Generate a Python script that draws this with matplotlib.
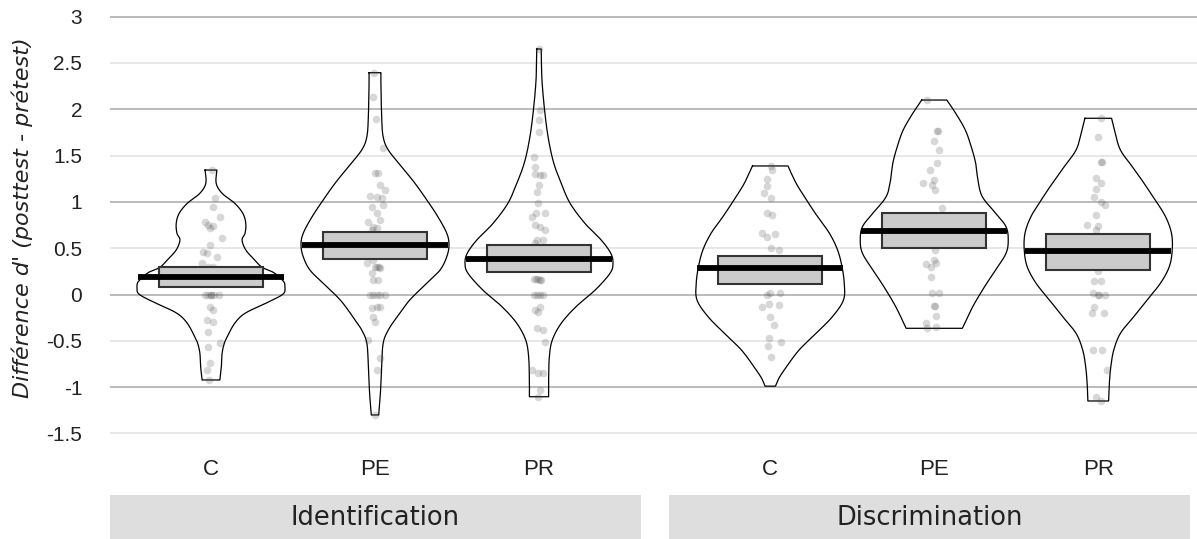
import numpy as np
import matplotlib
matplotlib.use("Agg")
import matplotlib.pyplot as plt
from matplotlib.patches import Rectangle

# ---------------- data ----------------
positions = [1, 2, 3, 4.41, 5.41, 6.41]
cond_labels = ["C", "PE", "PR", "C", "PE", "PR"]
task_labels = ["Identification", "Discrimination"]

means = [0.189, 0.535, 0.387, 0.290, 0.689, 0.473]
ci_low = [0.078, 0.380, 0.239, 0.113, 0.499, 0.265]
ci_high = [0.294, 0.671, 0.535, 0.419, 0.877, 0.653]

# violin outline: levels (d') and relative half width (1 = widest)
lev_id_c = [1.344, 1.201, 1.093, 0.985, 0.877, 0.769, 0.661, 0.589, 0.481, 0.373, 0.294,
            0.240, 0.189, 0.130, 0.070, 0.020, -0.024, -0.095, -0.203, -0.311, -0.456,
            -0.527, -0.635, -0.779, -0.923]
den_id_c = [0.08, 0.07, 0.15, 0.32, 0.43, 0.47, 0.46, 0.42, 0.47, 0.59, 0.69,
            0.84, 0.92, 0.99, 1.00, 0.99, 0.92, 0.74, 0.46, 0.32, 0.22,
            0.18, 0.15, 0.14, 0.12]
lev_id_pe = [2.395, 2.281, 1.920, 1.704, 1.560, 1.380, 1.201, 1.021, 0.840, 0.661, 0.535,
             0.408, 0.265, 0.121, -0.059, -0.240, -0.383, -0.527, -0.779, -0.959, -1.104, -1.301]
den_id_pe = [0.08, 0.08, 0.09, 0.11, 0.18, 0.36, 0.54, 0.70, 0.85, 0.97, 1.00,
             0.97, 0.88, 0.70, 0.47, 0.30, 0.18, 0.11, 0.09, 0.08, 0.07, 0.05]
lev_id_pr = [2.651, 2.316, 1.957, 1.668, 1.417, 1.201, 0.985, 0.769, 0.589, 0.445, 0.337,
             0.229, 0.049, -0.132, -0.311, -0.491, -0.672, -0.923, -1.104]
den_id_pr = [0.03, 0.04, 0.08, 0.13, 0.20, 0.30, 0.42, 0.62, 0.84, 0.97, 1.00,
             0.96, 0.76, 0.50, 0.30, 0.18, 0.14, 0.13, 0.13]
lev_di_c = [1.388, 1.201, 1.021, 0.840, 0.661, 0.481, 0.300, 0.121, -0.059, -0.240,
            -0.419, -0.599, -0.780, -0.900, -0.990]
den_di_c = [0.24, 0.35, 0.49, 0.64, 0.80, 0.91, 0.97, 1.00, 0.99, 0.84,
            0.62, 0.39, 0.22, 0.12, 0.07]
lev_di_pe = [2.100, 1.957, 1.776, 1.596, 1.417, 1.236, 1.056, 0.877, 0.732, 0.589,
             0.445, 0.265, 0.084, -0.132, -0.365]
den_di_pe = [0.17, 0.29, 0.42, 0.50, 0.56, 0.59, 0.65, 0.83, 0.97, 1.00,
             0.97, 0.83, 0.68, 0.52, 0.38]
lev_di_pr = [1.903, 1.741, 1.560, 1.380, 1.201, 1.021, 0.840, 0.661, 0.481, 0.300,
             0.121, -0.059, -0.240, -0.419, -0.599, -0.779, -0.959, -1.150]
den_di_pr = [0.18, 0.23, 0.30, 0.46, 0.62, 0.77, 0.91, 0.99, 1.00, 0.96,
             0.84, 0.66, 0.48, 0.30, 0.21, 0.17, 0.15, 0.14]

# individual participants (d' difference) and their horizontal jitter (px)
pts_id_c = [1.344, 1.039, 0.948, 0.840, 0.786, 0.751, 0.740, 0.720, 0.607, 0.535, 0.462,
            0.445, 0.408, 0.337, 0.300, 0.300, 0.0, 0.0, 0.0, 0.0, 0.0, 0.0,
            -0.132, -0.167, -0.275, -0.294, -0.402, -0.527, -0.564, -0.743, -0.815, -0.923]
jit_id_c = [1, 4, 2, 9, -6, -3, 2, -1, 11, -1, -8,
            -4, 6, -9, 2, -3, -6, -3, 0, 3, 8, 0,
            -1, 2, -4, 2, -3, 9, -3, -1, -4, -2]
pts_id_pe = [2.395, 2.136, 1.892, 1.579, 1.316, 1.316, 1.183, 1.129, 1.067, 1.056, 1.039,
             0.948, 0.966, 0.877, 0.805, 0.786, 0.732, 0.715, 0.697, 0.624, 0.373, 0.337,
             0.300, 0.300, 0.300, 0.283, 0.229, 0.157, 0.157, 0.0, 0.0, 0.0, 0.0, 0.0,
             -0.132, -0.149, -0.132, -0.240, -0.294, -0.491, -0.689, -0.815, -1.301]
jit_id_pe = [-1, -2, 1, 8, 0, 3, 5, 10, -5, 2, 7,
             -3, 8, 2, 5, -7, -2, 2, -3, 5, -2, -8,
             2, 0, 4, 5, -3, -2, 3, -5, -2, 2, 5, 10,
             2, -3, 5, -2, 0, -7, 5, 2, 0]
pts_id_pr = [2.651, 1.992, 1.884, 1.758, 1.488, 1.380, 1.301, 1.290, 1.290, 1.183, 1.110,
             0.985, 0.883, 0.883, 0.840, 0.751, 0.732, 0.697, 0.589, 0.589, 0.553,
             0.164, 0.164, 0.164, 0.157, 0.157, 0.0, 0.0, 0.0, 0.0,
             -0.132, -0.167, -0.185, -0.365, -0.383, -0.509, -0.815, -0.851, -0.851,
             -1.031, -1.104]
jit_id_pr = [0, 1, 0, 0, -5, -4, -4, 1, 4, 0, -2,
             -1, -3, 6, -7, -4, 1, 6, -2, 4, -4,
             -5, -3, -1, 2, 1, -5, -2, 1, 4,
             1, -4, -1, -2, 4, 6, -7, -1, 4,
             1, -1]
pts_di_c = [1.388, 1.344, 1.244, 1.172, 1.099, 1.045, 0.877, 0.859, 0.668, 0.653, 0.624,
            0.499, 0.481, 0.013, 0.013, 0.0, -0.103, -0.113, -0.138, -0.240, -0.329,
            -0.473, -0.509, -0.560, -0.680]
jit_di_c = [1, 2, -3, -3, -6, 1, -3, 2, -8, 5, -3,
            1, 9, 0, 10, -3, -1, 9, -8, 0, 4,
            -1, 11, -2, 1]
pts_di_pe = [2.100, 1.769, 1.769, 1.658, 1.560, 1.424, 1.344, 1.236, 1.207, 1.183, 1.129,
             0.931, 0.481, 0.373, 0.343, 0.326, 0.300, 0.186, 0.013, 0.013, -0.124,
             -0.124, -0.232, -0.311, -0.348, -0.365]
jit_di_pe = [-7, 3, 4, 0, 5, 3, -4, 0, -11, -2, 1,
             8, 1, 0, 2, -8, -3, -3, -2, 5, 0,
             1, 2, -8, 2, -7]
pts_di_pr = [1.903, 1.704, 1.434, 1.434, 1.255, 1.201, 1.136, 1.056, 1.002, 0.966, 0.859,
             0.751, 0.740, 0.697, 0.257, 0.146, 0.146, 0.013, 0.0, 0.0, 0.0,
             -0.132, -0.203, -0.203, -0.599, -0.599, -0.815, -1.104, -1.150]
jit_di_pr = [3, 0, 3, 4, -2, 3, -2, -4, 3, 7, -2,
             -11, 0, -2, 0, -4, 3, -5, 0, 1, 7,
             -4, -6, 6, -5, 4, 9, -2, 3]

levels = [lev_id_c, lev_id_pe, lev_id_pr, lev_di_c, lev_di_pe, lev_di_pr]
density = [den_id_c, den_id_pe, den_id_pr, den_di_c, den_di_pe, den_di_pr]
points = [pts_id_c, pts_id_pe, pts_id_pr, pts_di_c, pts_di_pe, pts_di_pr]
jitter = [jit_id_c, jit_id_pe, jit_id_pr, jit_di_c, jit_di_pe, jit_di_pr]

yticks = [-1.5, -1, -0.5, 0, 0.5, 1, 1.5, 2, 2.5, 3]


def smooth_outline(y, w, n=12):
    # catmull-rom through the read outline points, only to draw a rounder curve
    y = np.asarray(y, float)
    w = np.asarray(w, float)
    P = np.column_stack([w, y])
    P = np.vstack([P[0], P, P[-1]])
    out = []
    t = np.linspace(0, 1, n, endpoint=False)[:, None]
    for k in range(1, len(P) - 2):
        p0, p1, p2, p3 = P[k - 1], P[k], P[k + 1], P[k + 2]
        seg = 0.5 * ((2 * p1) + (-p0 + p2) * t + (2 * p0 - 5 * p1 + 4 * p2 - p3) * t ** 2
                     + (-p0 + 3 * p1 - 3 * p2 + p3) * t ** 3)
        out.append(seg)
    out.append(P[-2][None, :])
    out = np.vstack(out)
    return out[:, 1], out[:, 0]


# ---------------- figure ----------------
W, H = 1197, 539
PX = 164.0            # pixels per category unit
fig = plt.figure(figsize=(W / 100, H / 100), dpi=100)
ax = fig.add_axes([110 / W, (H - 440) / H, 1 - 110 / W, 430 / H])
ax.set_xlim(1 + (110 - 211) / PX, 1 + (W - 211) / PX)
ax.set_ylim((294.5 - 440) / 92.6, (294.5 - 10) / 92.6)

for v in yticks:
    col = "#aca7a7" if float(v).is_integer() else "#e0e0e0"
    ax.axhline(v, color=col, lw=1.1, zorder=0)

vmax = 74 / PX
for i, pos in enumerate(positions):
    lev, rel = smooth_outline(levels[i], density[i])
    hw = rel * vmax
    xs = np.concatenate([pos - hw, (pos + hw)[::-1], [pos - hw[0]]])
    ys = np.concatenate([lev, lev[::-1], [lev[0]]])
    ax.plot(xs, ys, color="black", lw=0.9, zorder=2)

    px = pos + np.array(jitter[i]) / PX
    ax.scatter(px, points[i], s=30, color="#4a4a4a", alpha=0.22, lw=0, zorder=3)

    bw = 52 / PX
    ax.add_patch(Rectangle((pos - bw, ci_low[i]), 2 * bw, ci_high[i] - ci_low[i],
                           facecolor="#cbcbcb", edgecolor="#333333", lw=1.5, zorder=4))
    mw = 73 / PX
    ax.plot([pos - mw, pos + mw], [means[i], means[i]], color="black", lw=4.2,
            solid_capstyle="butt", zorder=5)

for s in ax.spines.values():
    s.set_visible(False)

ax.set_yticks(yticks)
ax.set_yticklabels([f"{v:g}" for v in yticks], fontsize=15, family="Liberation Sans",
                   color="#222222")
ax.set_xticks(positions)
ax.set_xticklabels(cond_labels, fontsize=16, family="Liberation Sans", color="#222222")
ax.tick_params(axis="y", length=0, pad=20)
ax.tick_params(axis="x", length=0, pad=14)

# group bands under the axis
bands = [(110, 641), (669, 1190)]
for (x0, x1), lab in zip(bands, task_labels):
    fig.add_artist(Rectangle((x0 / W, 0), (x1 - x0) / W, (H - 495) / H,
                             transform=fig.transFigure, facecolor="#dedede",
                             edgecolor="none"))
    fig.text((x0 + x1) / 2 / W, (H - 518) / H, lab, ha="center", va="center",
             fontsize=18.5, family="DejaVu Sans", color="#222222")

fig.text(22 / W, (H - 218) / H, "Différence d' (posttest - prétest)", rotation=90,
         ha="center", va="center", fontsize=16, style="italic", family="DejaVu Sans",
         color="#222222")

fig.savefig("out.png", dpi=100)
